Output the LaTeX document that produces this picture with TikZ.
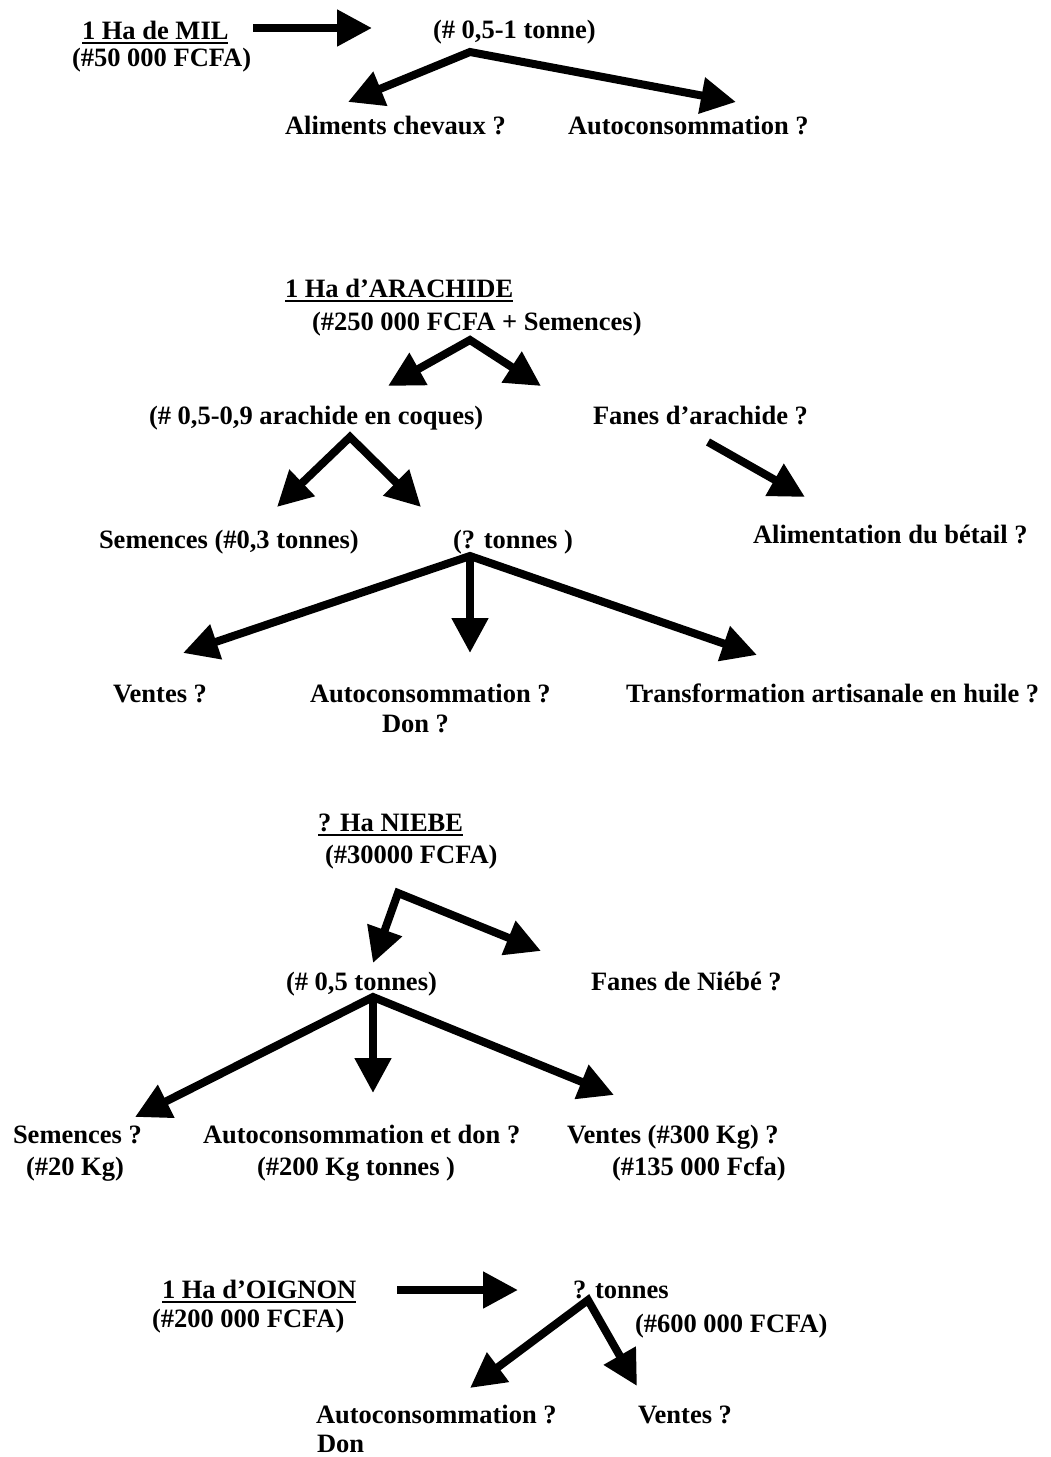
\documentclass[tikz,border=0pt]{standalone}
\usepackage{fontspec}
\setmainfont{Liberation Serif}
\usetikzlibrary{arrows.meta}
% underlined title with a heavier rule than \underline
\newcommand\ulbox[1]{\setbox0\hbox{#1}\rlap{\rule[-2.6pt]{\wd0}{1.3pt}}\box0}
\begin{document}
\begin{tikzpicture}[x=0.5pt,y=-0.5pt,
  lbl/.style={inner sep=0pt, outer sep=0pt, anchor=base west,
    font=\fontsize{13.25pt}{15.5pt}\selectfont\bfseries},
  head/.tip={Triangle[length=17.5pt,width=17.5pt]},
  arr/.style={line width=4pt, line join=miter, -head},
  arrtwo/.style={line width=4pt, line join=miter, head-head}]
\useasboundingbox (0,0) rectangle (1050,1457);

% ---------- MIL ----------
\node[lbl] (mil)   at (82,39)  {\ulbox{1 Ha de MIL}};
\node[lbl] (milc)  at (72,66)  {(\#50 000 FCFA)};
\node[lbl] (tonne) at (433,38) {(\# 0,5-1 tonne)};
\node[lbl] (alim)  at (285,134) {Aliments chevaux ?};
\node[lbl] (autoA) at (568,134) {Autoconsommation ?};
\coordinate (m0) at (253,28);
\coordinate (m1) at (372,28);
\coordinate (ms) at (470,52);
\coordinate (mL) at (348,102);
\coordinate (mR) at (736,102);
\draw[arr] (m0) -- (m1);
\draw[arrtwo] (mL) -- (ms) -- (mR);

% ---------- ARACHIDE ----------
\node[lbl] (arach)  at (285,297) {\ulbox{1 Ha d’ARACHIDE}};
\node[lbl] (arachc) at (312,330) {(\#250 000 FCFA + Semences)};
\node[lbl] (coques) at (149,424) {(\# 0,5-0,9 arachide en coques)};
\node[lbl] (fanes)  at (593,424) {Fanes d’arachide ?};
\node[lbl] (sem)    at (99,548)  {Semences (\#0,3 tonnes)};
\node[lbl] (qt)     at (453,548) {(? tonnes )};
\node[lbl] (alimb)  at (753,543) {Alimentation du bétail ?};
\node[lbl] (ventes) at (113,702) {Ventes ?};
\node[lbl] (autoB)  at (310,702) {Autoconsommation ?};
\node[lbl] (donB)   at (382,732) {Don ?};
\node[lbl] (transf) at (626,702) {Transformation artisanale en huile ?};
\coordinate (as) at (470,340);
\coordinate (aL) at (388,386);
\coordinate (aR) at (541,386);
\draw[arrtwo] (aL) -- (as) -- (aR);
\coordinate (f0) at (708,442);
\coordinate (f1) at (805,497);
\draw[arr] (f0) -- (f1);
\coordinate (cs) at (350,437);
\coordinate (cL) at (277,507);
\coordinate (cR) at (421,507);
\draw[arrtwo] (cL) -- (cs) -- (cR);
\coordinate (qs) at (470,556);
\coordinate (qL) at (183,653);
\coordinate (qD) at (470,653);
\coordinate (qR) at (757,655);
\draw[arrtwo] (qL) -- (qs) -- (qR);
\draw[arr] (qs) -- (qD);

% ---------- NIEBE ----------
\node[lbl] (niebe)   at (318,831) {\ulbox{? Ha NIEBE}};
\node[lbl] (niebec)  at (325,863) {(\#30000 FCFA)};
\node[lbl] (nt)      at (286,990) {(\# 0,5 tonnes)};
\node[lbl] (fanesN)  at (591,990) {Fanes de Niébé ?};
\node[lbl] (semN)    at (13,1143)  {Semences ?};
\node[lbl] (kgA)     at (26,1175)  {(\#20 Kg)};
\node[lbl] (autoN)   at (203,1143) {Autoconsommation et don ?};
\node[lbl] (kgB)     at (257,1175) {(\#200 Kg tonnes )};
\node[lbl] (ventesN) at (567,1143) {Ventes (\#300 Kg) ?};
\node[lbl] (fcfaN)   at (612,1175) {(\#135 000 Fcfa)};
\coordinate (ns) at (398,893);
\coordinate (nL) at (373,963);
\coordinate (nR) at (541,951);
\draw[arrtwo] (nL) -- (ns) -- (nR);
\coordinate (ts) at (373,997);
\coordinate (tL) at (135,1117);
\coordinate (tD) at (373,1093);
\coordinate (tR) at (614,1095);
\draw[arrtwo] (tL) -- (ts) -- (tR);
\draw[arr] (ts) -- (tD);

% ---------- OIGNON ----------
\node[lbl] (oig)     at (162,1298) {\ulbox{1 Ha d’OIGNON}};
\node[lbl] (oigc)    at (152,1327) {(\#200 000 FCFA)};
\node[lbl] (ot)      at (573,1298) {? tonnes};
\node[lbl] (otc)     at (635,1332) {(\#600 000 FCFA)};
\node[lbl] (autoO)   at (316,1423) {Autoconsommation ?};
\node[lbl] (donO)    at (317,1452) {Don};
\node[lbl] (ventesO) at (638,1423) {Ventes ?};
\coordinate (o0) at (397,1290);
\coordinate (o1) at (518,1290);
\coordinate (os) at (588,1300);
\coordinate (oL) at (470,1388);
\coordinate (oR) at (637,1386);
\draw[arr] (o0) -- (o1);
\draw[arrtwo] (oL) -- (os) -- (oR);
\end{tikzpicture}
\end{document}
